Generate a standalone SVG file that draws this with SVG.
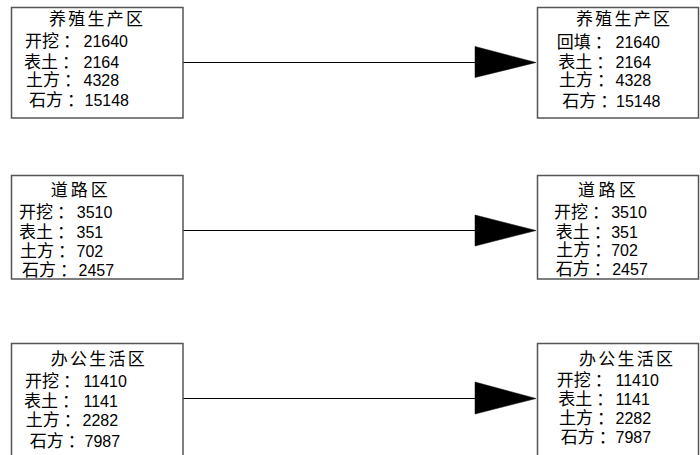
<svg xmlns="http://www.w3.org/2000/svg" width="700" height="455" viewBox="0 0 700 455">
<style>
.box{fill:#fff;stroke:#555;stroke-width:1.5}
.t{font-family:"Liberation Sans","Noto Sans CJK SC",sans-serif;font-size:17px;fill:#000}
.n{font-family:"Liberation Sans","Noto Sans CJK SC",sans-serif;font-size:16px}
.edge{stroke:#000;stroke-width:1;fill:none}
.head{fill:#000;stroke:#000;stroke-width:0.5}
</style>
<rect width="700" height="455" fill="#fff"/>
<g id="connectors">
<line class="edge" x1="183" y1="62.5" x2="476" y2="62.5"/>
<polygon class="head" points="475,46.5 536,62.5 475,77.5"/>
<line class="edge" x1="183" y1="230.5" x2="476" y2="230.5"/>
<polygon class="head" points="475,215 536,230.5 475,246"/>
<line class="edge" x1="183" y1="398.5" x2="476" y2="398.5"/>
<polygon class="head" points="475,382 536,398.5 475,414"/>
</g>
<g id="src-breeding">
<rect class="box" x="11.5" y="7.5" width="171.5" height="110.5"/>
<text class="t" x="49" y="25" textLength="94">养殖生产区</text>
<text class="t" x="25" y="47">开挖<tspan dx="4">：</tspan><tspan class="n" x="83.5">21640</tspan></text>
<text class="t" x="24" y="68">表土<tspan dx="4">：</tspan><tspan class="n" x="83.5">2164</tspan></text>
<text class="t" x="26" y="86">土方<tspan dx="4">：</tspan><tspan class="n" x="83.5">4328</tspan></text>
<text class="t" x="29" y="106">石方<tspan dx="4">：</tspan><tspan class="n" x="84.5">15148</tspan></text>
</g>
<g id="dst-breeding">
<rect class="box" x="537.5" y="7.5" width="161" height="110.5"/>
<text class="t" x="576" y="25" textLength="94">养殖生产区</text>
<text class="t" x="556.7" y="47.5">回填<tspan dx="4">：</tspan><tspan class="n" x="615.5">21640</tspan></text>
<text class="t" x="558.3" y="68">表土<tspan dx="4">：</tspan><tspan class="n" x="615.5">2164</tspan></text>
<text class="t" x="559" y="86">土方<tspan dx="4">：</tspan><tspan class="n" x="615.5">4328</tspan></text>
<text class="t" x="562.3" y="106.5">石方<tspan dx="4">：</tspan><tspan class="n" x="616">15148</tspan></text>
</g>
<g id="src-road">
<rect class="box" x="11.5" y="175.5" width="171.5" height="103.5"/>
<text class="t" x="50.7" y="196" textLength="57">道路区</text>
<text class="t" x="19" y="218">开挖<tspan dx="4">：</tspan><tspan class="n" x="76.8">3510</tspan></text>
<text class="t" x="19" y="237.5">表土<tspan dx="4">：</tspan><tspan class="n" x="76.5">351</tspan></text>
<text class="t" x="20" y="257">土方<tspan dx="4">：</tspan><tspan class="n" x="76.5">702</tspan></text>
<text class="t" x="22" y="276">石方<tspan dx="4">：</tspan><tspan class="n" x="78.5">2457</tspan></text>
</g>
<g id="dst-road">
<rect class="box" x="537.5" y="175.5" width="161" height="103.5"/>
<text class="t" x="578" y="196" textLength="58">道路区</text>
<text class="t" x="554" y="217.5">开挖<tspan dx="4">：</tspan><tspan class="n" x="611.2">3510</tspan></text>
<text class="t" x="555.7" y="238">表土<tspan dx="4">：</tspan><tspan class="n" x="611.2">351</tspan></text>
<text class="t" x="556.3" y="256">土方<tspan dx="4">：</tspan><tspan class="n" x="611.2">702</tspan></text>
<text class="t" x="555.7" y="275">石方<tspan dx="4">：</tspan><tspan class="n" x="612.2">2457</tspan></text>
</g>
<g id="src-office">
<rect class="box" x="11.5" y="343.5" width="171.5" height="120"/>
<text class="t" x="50.7" y="365" textLength="94">办公生活区</text>
<text class="t" x="25" y="387">开挖<tspan dx="4">：</tspan><tspan class="n" x="83.5">11410</tspan></text>
<text class="t" x="24" y="407">表土<tspan dx="4">：</tspan><tspan class="n" x="83.5">1141</tspan></text>
<text class="t" x="25.7" y="426">土方<tspan dx="4">：</tspan><tspan class="n" x="82.5">2282</tspan></text>
<text class="t" x="29.7" y="446.5">石方<tspan dx="4">：</tspan><tspan class="n" x="84.5">7987</tspan></text>
</g>
<g id="dst-office">
<rect class="box" x="537.5" y="343.5" width="161" height="120"/>
<text class="t" x="579" y="365" textLength="94">办公生活区</text>
<text class="t" x="556.7" y="386">开挖<tspan dx="4">：</tspan><tspan class="n" x="615.5">11410</tspan></text>
<text class="t" x="558.3" y="405">表土<tspan dx="4">：</tspan><tspan class="n" x="615.5">1141</tspan></text>
<text class="t" x="559" y="424">土方<tspan dx="4">：</tspan><tspan class="n" x="615.5">2282</tspan></text>
<text class="t" x="560.7" y="443">石方<tspan dx="4">：</tspan><tspan class="n" x="615.5">7987</tspan></text>
</g>
</svg>
